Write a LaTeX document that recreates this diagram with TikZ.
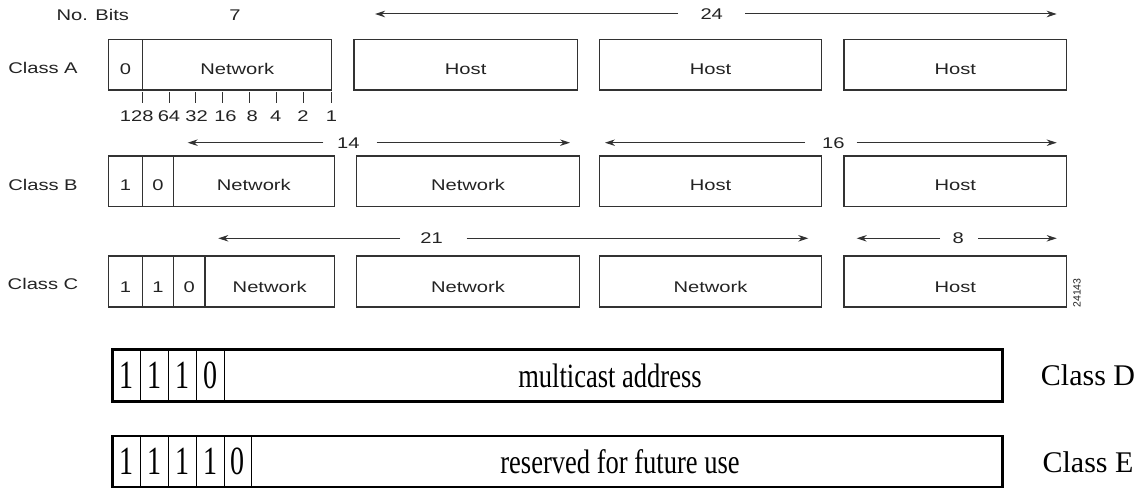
\documentclass[tikz,border=0pt]{standalone}
\usepackage{fontspec}
\setmainfont{Liberation Sans}
\newfontfamily\fieldsans[FakeStretch=1.3]{Liberation Sans}
\newfontfamily\plainsans{Liberation Sans}
\newfontfamily\fieldserif[FakeStretch=0.78]{Liberation Serif}
\newfontfamily\bitserif[FakeStretch=0.7]{Liberation Serif}
\newfontfamily\labelserif{Liberation Serif}
\usetikzlibrary{arrows.meta}

\definecolor{rule}{RGB}{50,50,50}
\definecolor{ink}{RGB}{35,35,35}

% field box: [style]{name}{x left}{x right}{y top}{y bottom}{text}
\newcommand\fld[7][]{%
  \node[field,#1,minimum width={#4pt-#3pt},minimum height={#6pt-#5pt}]
    (#2) at ({(#3+#4)/2},{(#5+#6)/2}) {#7};}

\begin{document}
\begin{tikzpicture}[x=1pt,y=-1pt,
  field/.style={draw=rule,line width=1.3pt,inner sep=0pt,outer sep=0pt,
    text=ink,font=\fieldsans\fontsize{15.5}{18}\selectfont,
    text height=19pt,text depth=0pt},
  lowtext/.style={text height=21pt},
  rowlabel/.style={text=ink,inner sep=0pt,font=\fieldsans\fontsize{15.5}{18}\selectfont},
  dimlabel/.style={text=ink,inner sep=0pt,font=\fieldsans\fontsize{15.5}{18}\selectfont},
  dim/.style={draw=rule,line width=1pt,-{Stealth[length=10pt,width=6.5pt]}},
  tick/.style={draw=rule,line width=1pt},
  bitcell/.style={draw=black,line width=1pt,inner sep=0pt,outer sep=0pt,
    font=\bitserif\fontsize{40}{44}\selectfont},
  wordtext/.style={draw=none,inner sep=0pt,outer sep=0pt,
    font=\fieldserif\fontsize{34}{38}\selectfont},
  outer/.style={draw=black,line width=2.6pt,inner sep=0pt,outer sep=0pt},
  classlabel/.style={inner sep=0pt,font=\labelserif\fontsize{30}{34}\selectfont},
]
\useasboundingbox (0,0) rectangle (1141,489);

% header
\node[rowlabel] (nobits) at (92.8,15) {No. Bits};
\node[dimlabel] (seven) at (235,15) {7};

% row labels
\node[rowlabel] (clA) at (43,68) {Class A};
\node[rowlabel] (clB) at (43,185) {Class B};
\node[rowlabel] (clC) at (43,283.5) {Class C};

% Class A
\fld{a0}{108.3}{142.7}{39.3}{90}{0}
\fld{anet}{142.7}{331.7}{39.3}{90}{Network}
\fld{ah1}{354}{577.3}{39.3}{90}{Host}
\fld{ah2}{599.3}{821.7}{39.3}{90}{Host}
\fld{ah3}{844}{1066.7}{39.3}{90}{Host}

% bit weights under the Class A network field
\foreach \n/\tx/\lx/\w in {1/142.3/136.7/128,2/169/169/64,3/195.7/196.7/32,
    4/222.7/225.5/16,5/249.7/252.3/8,6/276.3/275.8/4,7/303.3/303/2,8/331/331.5/1}{
  \coordinate (ta\n) at (\tx,92);
  \coordinate (tb\n) at (\tx,103.5);
  \draw[tick] (ta\n) -- (tb\n);
  \node[dimlabel] (w\n) at (\lx,116.5) {\w};
}

% Class B
\fld{b1}{108.3}{142.7}{156}{206.7}{1}
\fld{b0}{142.7}{173.3}{156}{206.7}{0}
\fld{bn1}{173.3}{334.3}{156}{206.7}{Network}
\fld{bn2}{356.7}{579.3}{156}{206.7}{Network}
\fld{bh1}{599.3}{821.7}{156}{206.7}{Host}
\fld{bh2}{844}{1066.7}{156}{206.7}{Host}

% Class C
\fld[lowtext]{c1}{108.3}{142.7}{256}{307}{1}
\fld[lowtext]{c2}{142.7}{173.3}{256}{307}{1}
\fld[lowtext]{c0}{173.3}{205}{256}{307}{0}
\fld[lowtext]{cn1}{205}{334.3}{256}{307}{Network}
\fld[lowtext]{cn2}{356.7}{579.3}{256}{307}{Network}
\fld[lowtext]{cn3}{599.3}{821.7}{256}{307}{Network}
\fld[lowtext]{ch1}{844}{1066.7}{256}{307}{Host}

% bit-count dimension arrows
\node[dimlabel] (d24) at (711.7,14) {24};
\coordinate (d24l) at (678,14);   \coordinate (d24lt) at (375,14);
\coordinate (d24r) at (745,14);   \coordinate (d24rt) at (1056.7,14);
\draw[dim] (d24l) -- (d24lt);
\draw[dim] (d24r) -- (d24rt);

\node[dimlabel] (d14) at (348.3,142.7) {14};
\coordinate (d14l) at (323.3,142.7);  \coordinate (d14lt) at (187.7,142.7);
\coordinate (d14r) at (376.7,142.7);  \coordinate (d14rt) at (570,142.7);
\draw[dim] (d14l) -- (d14lt);
\draw[dim] (d14r) -- (d14rt);

\node[dimlabel] (d16) at (833.3,142.7) {16};
\coordinate (d16l) at (805,142.7);    \coordinate (d16lt) at (605,142.7);
\coordinate (d16r) at (856.7,142.7);  \coordinate (d16rt) at (1056.7,142.7);
\draw[dim] (d16l) -- (d16lt);
\draw[dim] (d16r) -- (d16rt);

\node[dimlabel] (d21) at (431.7,238.3) {21};
\coordinate (d21l) at (400,238.3);    \coordinate (d21lt) at (218.3,238.3);
\coordinate (d21r) at (466.7,238.3);  \coordinate (d21rt) at (808.3,238.3);
\draw[dim] (d21l) -- (d21lt);
\draw[dim] (d21r) -- (d21rt);

\node[dimlabel] (d8) at (958.3,238.3) {8};
\coordinate (d8l) at (940,238.3);     \coordinate (d8lt) at (856.7,238.3);
\coordinate (d8r) at (978.3,238.3);   \coordinate (d8rt) at (1056.7,238.3);
\draw[dim] (d8l) -- (d8lt);
\draw[dim] (d8r) -- (d8rt);

% figure number
\node[rotate=90,inner sep=0pt,text=ink,font=\plainsans\fontsize{10.5}{12}\selectfont]
  (fignum) at (1077,293) {24143};

% Class D
\foreach \n/\xa/\xb/\b in {1/112.7/140.7/1,2/140.7/168.3/1,3/168.3/196.7/1,4/196.7/224/0}{
  \node[bitcell,minimum width={\xb pt-\xa pt},minimum height=52.4pt]
    (dbit\n) at ({(\xa+\xb)/2},375.5) {\b};
}
\node[wordtext] (dtext) at (610,375.5) {multicast address};
\node[outer,minimum width=890pt,minimum height=52.4pt] (dbox) at (557.7,375.5) {};
\node[classlabel] (clD) at (1088,375) {Class D};

% Class E
\foreach \n/\xa/\xb/\b in {1/112.7/140.7/1,2/140.7/168.3/1,3/168.3/196.7/1,
    4/196.7/224/1,5/224/251.7/0}{
  \node[bitcell,minimum width={\xb pt-\xa pt},minimum height=51pt]
    (ebit\n) at ({(\xa+\xb)/2},461.5) {\b};
}
\node[wordtext] (etext) at (620,461.5) {reserved for future use};
\node[outer,minimum width=890pt,minimum height=51pt] (ebox) at (557.7,461.5) {};
\node[classlabel] (clE) at (1088,462) {Class E};
\end{tikzpicture}
\end{document}
